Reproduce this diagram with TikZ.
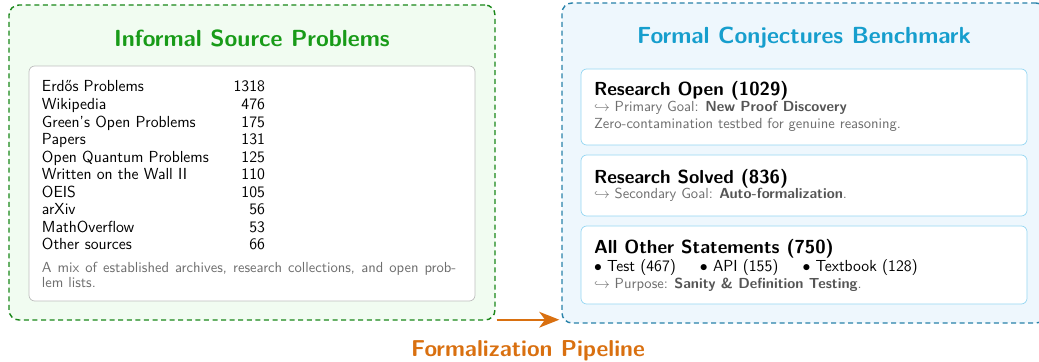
\documentclass[tikz,border=0pt]{standalone}
\usetikzlibrary{fit,calc,arrows.meta}
\definecolor{gborder}{RGB}{25,135,25}
\definecolor{gtitle}{RGB}{24,155,24}
\definecolor{gfill}{RGB}{241,252,241}
\definecolor{bborder}{RGB}{40,130,170}
\definecolor{btitle}{RGB}{22,158,205}
\definecolor{bfill}{RGB}{238,247,253}
\definecolor{binner}{RGB}{150,215,242}
\definecolor{ginner}{RGB}{190,190,190}
\definecolor{subgray}{RGB}{110,110,110}
\definecolor{boldgray}{RGB}{85,85,85}
\definecolor{pipeor}{RGB}{217,112,16}
\tikzset{
  outerbox/.style={draw, line width=1pt, dash pattern=on 3.5pt off 2.5pt, rounded corners=7pt, inner sep=0pt},
  innerbox/.style={draw, line width=0.5pt, fill=white, rounded corners=4pt, inner sep=0pt},
  txt/.style={anchor=base west, inner sep=0pt, outer sep=0pt},
  numtxt/.style={anchor=base east, inner sep=0pt, outer sep=0pt},
  headtxt/.style={txt, font=\sffamily\bfseries\fontsize{13.2}{16}\selectfont},
  subtxt/.style={txt, font=\sffamily\fontsize{10.2}{11.2}\selectfont, text=subgray},
  titletxt/.style={anchor=base, inner sep=0pt, font=\sffamily\bfseries\fontsize{16.3}{20}\selectfont},
  pipe/.style={draw=pipeor, line width=1.6pt, -{Stealth[length=14pt,width=11pt,inset=4pt]}},
}
\newcommand{\gb}[1]{\textcolor{boldgray}{\textbf{#1}}}
\begin{document}
\begin{tikzpicture}[x=0.7pt,y=-0.7pt,font=\sffamily\fontsize{11.2}{13.5}\selectfont]
\useasboundingbox (0,0) rectangle (1039,362);
% left panel
\node[outerbox, draw=gborder, fill=gfill, fit={(9,5)(495,320)}] (src) {};
\node[titletxt, text=gtitle] (srctitle) at (252,47) {Informal Source Problems};
\node[innerbox, draw=ginner, fit={(29,66)(475,301)}] (list) {};
\foreach \nm/\nu [count=\i from 0] in {Erdős Problems/1318, Wikipedia/476, Green's Open Problems/175, Papers/131, Open Quantum Problems/125, Written on the Wall II/110, OEIS/105, arXiv/56, MathOverflow/53, Other sources/66}{
  \node[txt] (row\i) at (42,{92+17.55*\i}) {\nm};
  \node[numtxt] (num\i) at (265,{92+17.55*\i}) {\nu};
}
\node[txt, text width=290pt, align=justify, font=\sffamily\fontsize{10.2}{11.2}\selectfont, text=subgray] (note) at (42,272)
  {A mix of established archives, research collections, and open prob-\linebreak lem lists.};
% right panel
\node[outerbox, draw=bborder, fill=bfill, fit={(562,3)(1046,323)}] (bench) {};
\node[titletxt, text=btitle] (benchtitle) at (804,44) {Formal Conjectures Benchmark};
\node[innerbox, draw=binner, fit={(581,69)(1027,145)}] (open) {};
\node[headtxt] (openh) at (594,96) {Research Open (1029)};
\node[subtxt] (opens) at (594,112) {$\hookrightarrow$ Primary Goal: \gb{New Proof Discovery}};
\node[subtxt] (opend) at (594,129) {Zero-contamination testbed for genuine reasoning.};
\node[innerbox, draw=binner, fit={(581,155)(1027,216)}] (solved) {};
\node[headtxt] (solvedh) at (594,183) {Research Solved (836)};
\node[subtxt] (solveds) at (594,199) {$\hookrightarrow$ Secondary Goal: \gb{Auto-formalization}.};
\node[innerbox, draw=binner, fit={(581,226)(1027,304)}] (other) {};
\node[headtxt] (otherh) at (594,253) {All Other Statements (750)};
\node[txt] (otherb) at (594,271) {$\bullet$ Test (467)\hspace{1.5em}$\bullet$ API (155)\hspace{1.5em}$\bullet$ Textbook (128)};
\node[subtxt] (others) at (594,288) {$\hookrightarrow$ Purpose: \gb{Sanity \& Definition Testing}.};
% pipeline arrow
\draw[pipe] ($(src.south east)+(1,-1)$) -- ($(bench.west |- src.south east)+(-2,-1)$);
\node[titletxt, font=\sffamily\bfseries\fontsize{16.1}{20}\selectfont, text=pipeor] (pipelabel) at (528,356.7) {Formalization Pipeline};
\end{tikzpicture}
\end{document}
